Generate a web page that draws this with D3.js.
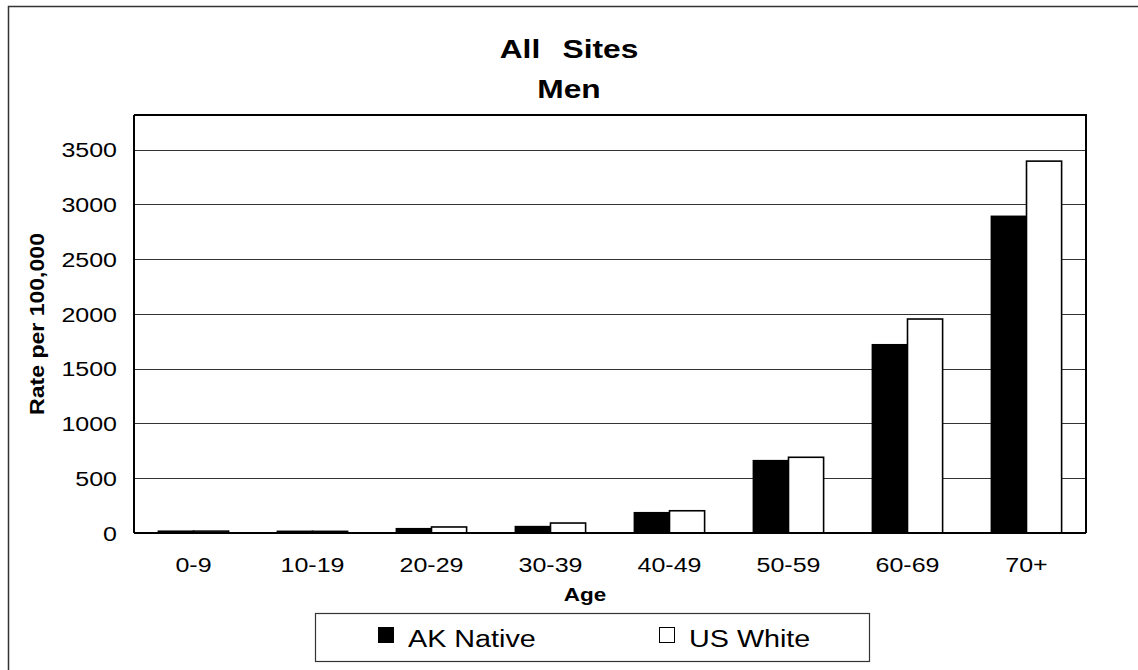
<!DOCTYPE html>
<html>
<head>
<meta charset="utf-8">
<script src="https://cdn.jsdelivr.net/npm/d3@7"></script>
<style>
  body { margin: 0; background: #fff; }
  text { font-family: "Liberation Sans", Arial, sans-serif; fill: #000; }
</style>
</head>
<body>
<div class="chart"></div>
<script>
// data
var ageGroups = ["0-9", "10-19", "20-29", "30-39", "40-49", "50-59", "60-69", "70+"];
var seriesNames = ["AK Native", "US White"];
var akNative = [16, 15, 39, 58, 185, 660, 1718, 2890];
var usWhite = [17, 15, 55, 91, 203, 691, 1953, 3394];
var yTicks = [0, 500, 1000, 1500, 2000, 2500, 3000, 3500];

var svgWidth = 1138;
var svgHeight = 670;

// the original picture is stretched sideways, so most text gets stretched too
var SX = 1.25;

// plot area
var plot = { left: 134, right: 1086, top: 115, bottom: 533 };

var svg = d3.select(".chart")
  .append("svg")
  .attr("width", svgWidth)
  .attr("height", svgHeight);

// outer frame (right and bottom edges fall off the page)
svg.append("rect")
  .attr("x", 8.5)
  .attr("y", 6.5)
  .attr("width", svgWidth)
  .attr("height", svgHeight)
  .attr("fill", "none")
  .attr("stroke", "#333")
  .attr("stroke-width", 1.5);

function stretchedText(x, y, str, sx) {
  return svg.append("text")
    .attr("transform", `translate(${x}, ${y}) scale(${sx || SX}, 1)`)
    .text(str);
}

// titles
stretchedText(569, 58, "All Sites", 1.22)
  .attr("text-anchor", "middle")
  .style("font-size", "26px")
  .style("font-weight", "bold")
  .style("word-spacing", "11px");
stretchedText(569, 98, "Men", 1.22)
  .attr("text-anchor", "middle")
  .style("font-size", "26px")
  .style("font-weight", "bold");

// scales
var x0 = d3.scaleBand()
  .domain(ageGroups)
  .range([plot.left, plot.right])
  .paddingInner(0.41)
  .paddingOuter(0.205);

var x1 = d3.scaleBand()
  .domain(seriesNames)
  .range([0, x0.bandwidth()]);

var y = d3.scaleLinear()
  .domain([0, 3815])
  .range([plot.bottom, plot.top]);

// gridlines
svg.append("g")
  .selectAll("line")
  .data(yTicks.slice(1))
  .enter()
  .append("line")
  .attr("x1", plot.left)
  .attr("x2", plot.right)
  .attr("y1", d => Math.round(y(d)) + 0.5)
  .attr("y2", d => Math.round(y(d)) + 0.5)
  .attr("stroke", "#333")
  .attr("stroke-width", 1);

// plot border top + right
svg.append("path")
  .attr("d", `M${plot.left},${plot.top} H${plot.right} V${plot.bottom}`)
  .attr("fill", "none")
  .attr("stroke", "#000")
  .attr("stroke-width", 2);

// bars
var rows = ageGroups.map((g, i) => ({ group: g, values: [akNative[i], usWhite[i]] }));

var groups = svg.append("g")
  .selectAll("g")
  .data(rows)
  .enter()
  .append("g")
  .attr("transform", d => `translate(${x0(d.group)}, 0)`);

groups.selectAll("rect")
  .data(d => d.values.map((v, j) => ({ name: seriesNames[j], value: v })))
  .enter()
  .append("rect")
  .attr("x", d => x1(d.name))
  .attr("y", d => y(d.value))
  .attr("width", x1.bandwidth())
  .attr("height", d => plot.bottom - y(d.value))
  .attr("fill", d => d.name === "AK Native" ? "#000" : "#fff")
  .attr("stroke", "#000")
  .attr("stroke-width", 1.6);

// y axis
var leftAxis = d3.axisLeft(y)
  .tickValues(yTicks)
  .tickFormat(d3.format("d"))
  .tickSize(0)
  .tickPadding(0);

var yAxis = svg.append("g")
  .attr("transform", `translate(${plot.left}, 0)`)
  .call(leftAxis);

yAxis.select(".domain")
  .attr("d", `M0,${plot.top}V${plot.bottom}`)
  .attr("stroke", "#000")
  .attr("stroke-width", 2);

yAxis.selectAll(".tick text")
  .attr("x", null)
  .attr("dy", "0.36em")
  .attr("transform", `translate(-17, 0) scale(${SX}, 1)`)
  .style("font-size", "20px")
  .style("font-family", "'Liberation Sans', Arial, sans-serif");

// x axis
var bottomAxis = d3.axisBottom(x0)
  .tickSize(0)
  .tickPadding(0);

var xAxis = svg.append("g")
  .attr("transform", `translate(0, ${plot.bottom})`)
  .call(bottomAxis);

xAxis.select(".domain")
  .attr("d", `M${plot.left},0H${plot.right}`)
  .attr("stroke", "#000")
  .attr("stroke-width", 2);

xAxis.selectAll(".tick text")
  .attr("y", null)
  .attr("dy", null)
  .attr("transform", `translate(0, 39) scale(${SX}, 1)`)
  .style("font-size", "20px")
  .style("font-family", "'Liberation Sans', Arial, sans-serif");

// axis titles
stretchedText(585, 601, "Age")
  .attr("text-anchor", "middle")
  .style("font-size", "18px")
  .style("font-weight", "bold");

svg.append("text")
  .attr("transform", `translate(44, ${(plot.top + plot.bottom) / 2}) rotate(-90)`)
  .attr("text-anchor", "middle")
  .attr("textLength", 182)
  .attr("lengthAdjust", "spacingAndGlyphs")
  .style("font-size", "21px")
  .style("font-weight", "bold")
  .text("Rate per 100,000");

// legend
var legend = svg.append("g");

legend.append("rect")
  .attr("x", 315.5)
  .attr("y", 613.5)
  .attr("width", 554)
  .attr("height", 48)
  .attr("fill", "#fff")
  .attr("stroke", "#333")
  .attr("stroke-width", 1.2);

var legendX = [378, 659];

seriesNames.forEach(function(name, i) {
  legend.append("rect")
    .attr("x", legendX[i] + 0.5)
    .attr("y", 627.5)
    .attr("width", 15)
    .attr("height", 15)
    .attr("fill", i === 0 ? "#000" : "#fff")
    .attr("stroke", "#000")
    .attr("stroke-width", 1);

  stretchedText(legendX[i] + 30, 647, name)
    .style("font-size", "23px");
});
</script>
</body>
</html>
